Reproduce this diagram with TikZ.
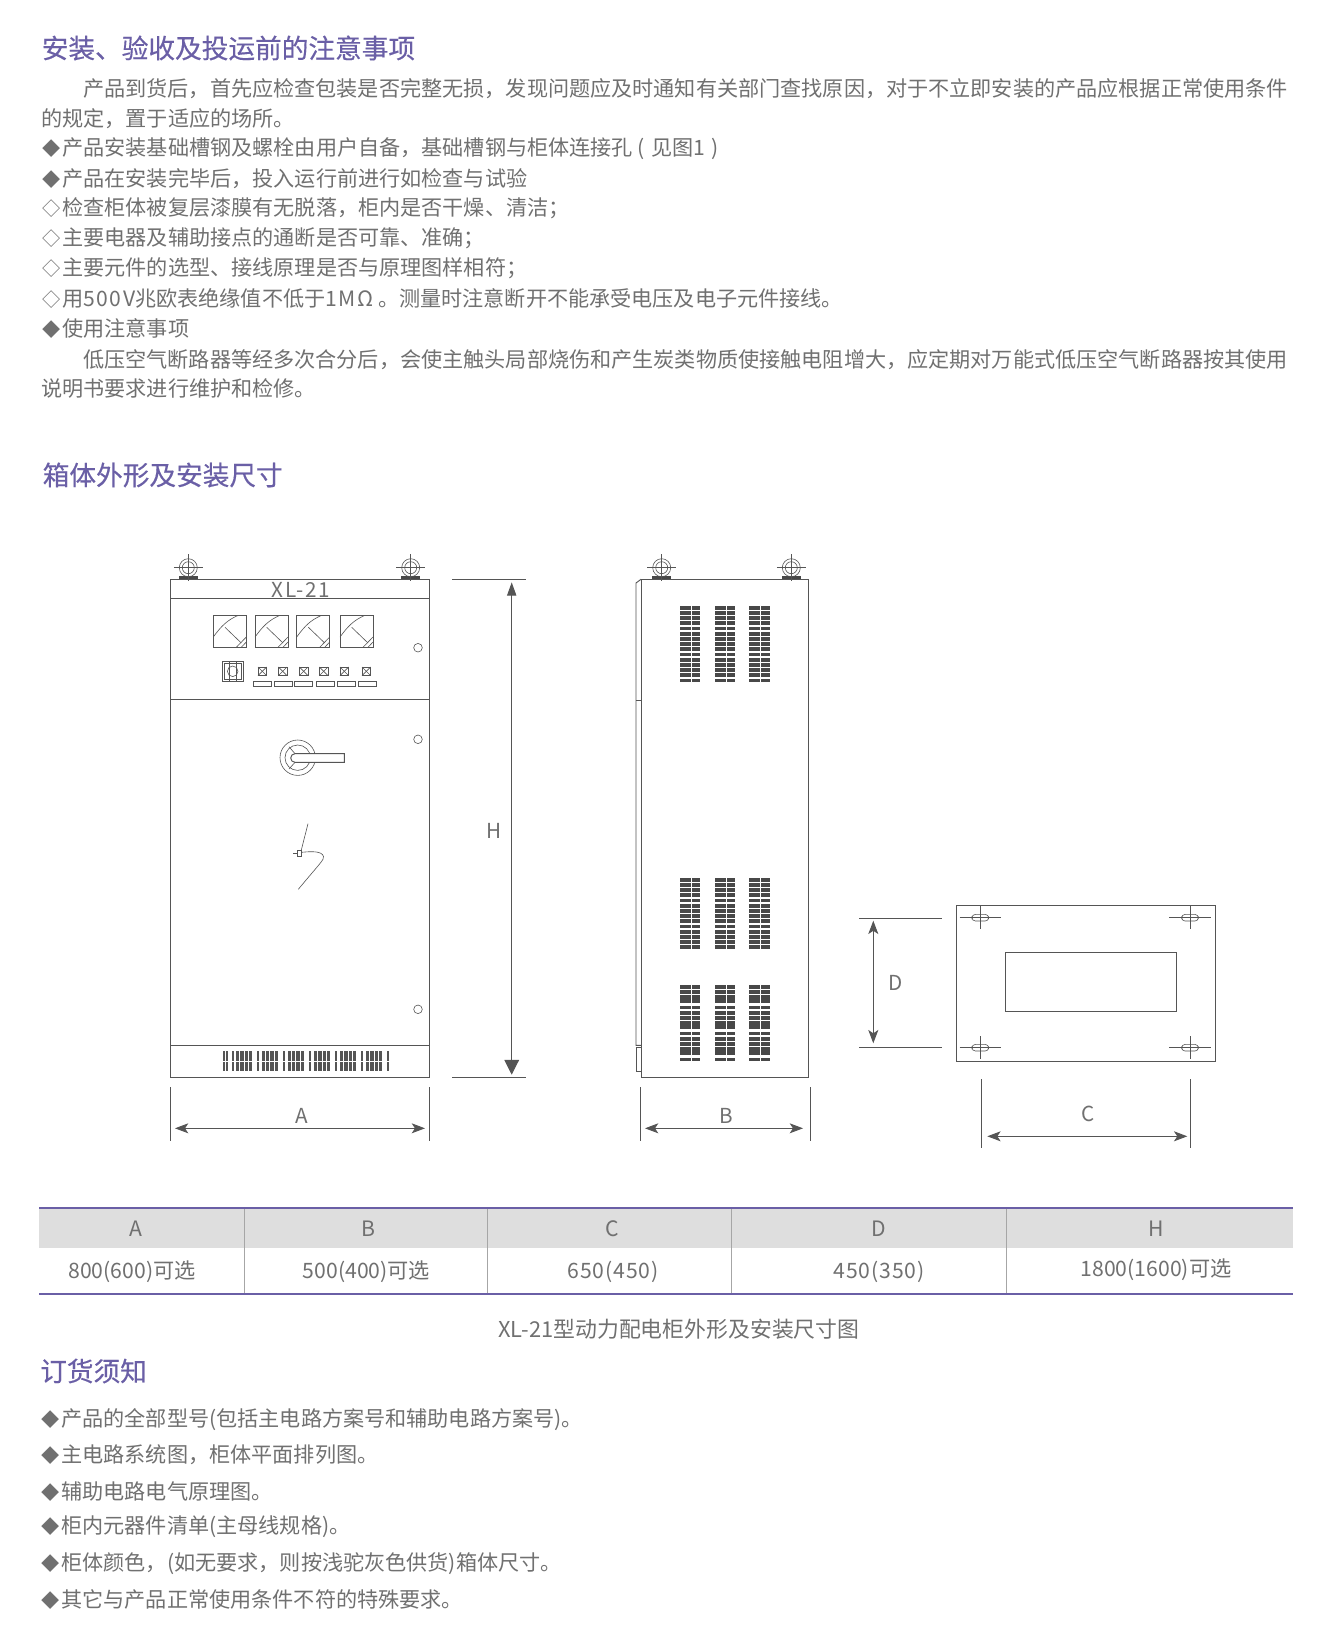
\documentclass[tikz,border=0pt]{standalone}
\usepackage{fontspec}
\setmainfont{Noto Sans CJK SC}
\newfontfamily\titlefont[FakeBold=0.35]{Noto Sans CJK SC}
\usetikzlibrary{arrows.meta,calc}
\definecolor{titulo}{HTML}{6A5FA6}
\definecolor{texto}{HTML}{707070}
\definecolor{linea}{HTML}{555555}
\definecolor{oscuro}{HTML}{484848}
\definecolor{cabeza}{HTML}{DEDEDE}
\newcommand{\lleno}{\makebox[1em]{\scalebox{0.86}{◆}}}
\newcommand{\hueco}{\makebox[1em]{\scalebox{0.86}{◇}}}
\newcommand{\lat}[1]{{\addfontfeatures{LetterSpace=7}#1}}
\newcommand{\latcell}[1]{{\addfontfeatures{LetterSpace=4}#1}}
\begin{document}
\begin{tikzpicture}[x=0.75pt,y=-0.75pt,>={Stealth[length=10pt,width=7.5pt,inset=2.5pt]},
head/.style ={anchor=west, inner sep=0pt, text=titulo, font=\titlefont\fontsize{20}{24}\selectfont},
body/.style ={anchor=west, inner sep=0pt, text=texto, font=\fontsize{15.85}{20}\selectfont},
cell/.style ={anchor=center, inner sep=0pt, text=texto, font=\fontsize{15.9}{20}\selectfont},
dimlabel/.style ={anchor=center, inner sep=0pt, text=texto, font=\fontsize{15.5}{20}\selectfont},
plate/.style ={draw=linea, line width=0.7pt},
thinline/.style ={draw=linea, line width=0.45pt},
dimline/.style ={draw=linea, line width=0.7pt},
rule/.style ={draw=titulo, line width=1.7pt}
]
\useasboundingbox (0,0) rectangle (1329,1636);
\fill[white] (0,0) rectangle (1329,1636);
\draw (41.5,48) node[head] (t1) {安装、验收及投运前的注意事项};
\draw (83,89) node[body] (l1) {产品到货后，首先应检查包装是否完整无损，发现问题应及时通知有关部门查找原因，对于不立即安装的产品应根据正常使用条件};
\draw (41,119) node[body] (l2) {的规定，置于适应的场所。};
\draw (41,149) node[body] (l3) {\lleno 产品安装基础槽钢及螺栓由用户自备，基础槽钢与柜体连接孔 \lat{( }见图\lat{1 )}};
\draw (41,178.5) node[body] (l4) {\lleno 产品在安装完毕后，投入运行前进行如检查与试验};
\draw (41,208.5) node[body] (l5) {\hueco 检查柜体被复层漆膜有无脱落，柜内是否干燥、清洁；};
\draw (41,238) node[body] (l6) {\hueco 主要电器及辅助接点的通断是否可靠、准确；};
\draw (41,268.5) node[body] (l7) {\hueco 主要元件的选型、接线原理是否与原理图样相符；};
\draw (41,298) node[body] (l8) {\hueco 用\lat{500V}兆欧表绝缘值不低于\lat{1MΩ} 。测量时注意断开不能承受电压及电子元件接线。};
\draw (41,329) node[body] (l9) {\lleno 使用注意事项};
\draw (83,359.5) node[body] (l10) {低压空气断路器等经多次合分后，会使主触头局部烧伤和产生炭类物质使接触电阻增大，应定期对万能式低压空气断路器按其使用};
\draw (41,388) node[body] (l11) {说明书要求进行维护和检修。};
\draw (42.5,475) node[head] (t2) {箱体外形及安装尺寸};
\foreach \bx in {188.3,410.7,661.7,791.3} {
\fill[oscuro] (\bx-9.5,576.3) rectangle (\bx+9.5,579.5);
\draw[thinline] (\bx,567.7) circle[radius=9];
\draw[thinline] (\bx,567.7) circle[radius=6];
\draw[thinline] (\bx-14.5,567.7)--(\bx+14.5,567.7);
\draw[thinline] (\bx,554)--(\bx,581);
}
\draw[plate] (170.7,579.3) rectangle (429.3,1077.3);
\draw[plate] (170.7,598.3)--(429.3,598.3);
\draw[plate] (170.7,699.3)--(429.3,699.3);
\draw[plate] (170.7,1045.3)--(429.3,1045.3);
\draw (301,590) node[dimlabel,font=\addfontfeatures{LetterSpace=8}\fontsize{15.5}{20}\selectfont] (model) {XL-21};
\foreach \mx in {213.3,255,296.7,340} {
\draw[plate] (\mx,615.3) rectangle +(33,32);
\draw[thinline] (\mx,637) .. controls (\mx+8,626) and (\mx+14,620) .. (\mx+25,615.3);
\draw[thinline] (\mx+11.7,627.3)--(\mx+28,643);
\draw[thinline] (\mx+23,647.3)--(\mx+33,637);
\draw[thinline] (\mx+28,647.3)--(\mx+33,642);
}
\draw[plate] (222,661.3) rectangle (243.7,681);
\draw[thinline] (224,663.3) rectangle (241.7,679);
\draw[thinline] (232.7,671.3) circle[radius=5.3];
\draw[thinline] (229.3,662)--(229.3,680.7);
\draw[thinline] (236,662)--(236,680.7);
\foreach \sx in {262.3,282.7,303.7,323.7,344.3,366.3} {
\draw[plate] (\sx-4.3,667) rectangle (\sx+4.3,675.6);
\draw[thinline] (\sx-4.3,667)--(\sx+4.3,675.6);
\draw[thinline] (\sx-4.3,675.6)--(\sx+4.3,667);
}
\foreach \lx in {253.3,274.3,294.3,316.3,337.3,358.7} {
\draw[thinline] (\lx,681) rectangle +(18,5.7);
}
\foreach \cy in {647.7,739.3,1009.3} {
\draw[thinline] (418,\cy) circle[radius=4.3];
}
\draw[thinline] (297.7,757.7) circle[radius=17.7];
\draw[thinline] (297.7,757.7) circle[radius=12.7];
\draw[thinline] (289,746.7)--(295,753.7);
\draw[thinline] (289,769)--(295,762.3);
\draw[plate,fill=white] (344.3,753.7)--(295,753.7) arc[start angle=270,end angle=90,radius=4.3]--(344.3,762.3)--cycle;
\draw[thinline] (308,823.7)--(301.3,850);
\draw[thinline] (297.3,850.3) rectangle (301.7,856.3);
\draw[thinline] (293.3,853.3)--(297.3,853.3);
\draw[thinline] (301.7,852.3) .. controls (310,851.5) and (322,850.5) .. (323.5,856.5) .. controls (324,860) and (321,862) .. (298.3,889.3);
\foreach \gx/\gw in {223.3/1.7,226.3/1.7,231.7/2.7,236/3.4,240.3/3.4,244.7/3.4,249/3.4,257/2,261.7/3.4,266/3.4,270.3/3.4,274.7/3.4,283.3/2,287.7/3.4,292/3.4,296.3/3.4,300.7/3.4,309/2,314/3.4,318.3/3.4,322.7/3.4,327/3.4,335.3/2,340/3.4,344.3/3.4,348.7/3.4,353/3.4,361.3/2,366/3.4,370.3/3.4,374.7/3.4,379/3.4,387.3/2} {
\fill[linea] (\gx,1051.3) rectangle +(\gw,9.3);
\fill[linea] (\gx,1061.6) rectangle +(\gw,9.7);
}
\draw[plate] (641,579.3) rectangle (808.3,1077);
\draw[plate] (641,579.3)--(636,583)--(636,1045.3)--(641,1045.3);
\draw[plate] (636,700.3)--(641,700.3);
\draw[plate] (636,1047.7) rectangle (641,1071.7);
\foreach \vy in {606,878,984.7} {
\foreach \vx in {680,715,749.3} {
\foreach \vo in {0,5,10,14.7,26.3,31,36,40.7,52.3,57,62,66.7} {
\fill[oscuro] (\vx,\vy+\vo) rectangle +(10.6,4);
\fill[oscuro] (\vx+11.6,\vy+\vo) rectangle +(8.7,4);
}
\foreach \vo in {21.3,47.3} {
\fill[oscuro] (\vx,\vy+\vo) rectangle +(10.6,2.5);
\fill[oscuro] (\vx+11.6,\vy+\vo) rectangle +(8.7,2.5);
}
}
}
\foreach \vy in {606,984.7} {
\foreach \vx in {680,715,749.3} {
\fill[oscuro] (\vx,\vy+73.3) rectangle +(10.6,2.5);
\fill[oscuro] (\vx+11.6,\vy+73.3) rectangle +(8.7,2.5);
}
}
\draw[plate] (956.3,905.7) rectangle (1215,1061.3);
\draw[plate] (1005,952) rectangle (1176.3,1011.7);
\foreach \px/\py in {980.3/917.7,1190/917.7,980.3/1047.7,1190/1047.7} {
\draw[thinline,rounded corners=2.5pt] (\px-8.3,\py-3.3) rectangle (\px+8.3,\py+3.3);
\draw[thinline] (\px-20.7,\py)--(\px+20.7,\py);
\draw[thinline] (\px,\py-11.3)--(\px,\py+11.3);
}
\coordinate (Hup) at (511.7,579.7);
\coordinate (Hdown) at (511.7,1077.3);
\draw[dimline] (452,579.7)--(525.7,579.7);
\draw[dimline] (452,1077.3)--(525.7,1077.3);
\draw[dimline,{Stealth[length=10pt,width=7pt,inset=0pt]}-{Stealth[length=11pt,width=11pt,inset=0pt]},shorten <=2pt,shorten >=2pt] (Hup)--(Hdown);
\draw (494,830.7) node[dimlabel] (H) {H};
\coordinate (Aleft) at (175,1128.3);
\coordinate (Aright) at (425,1128.3);
\draw[dimline] (170.7,1087.3)--(170.7,1140.7);
\draw[dimline] (429.7,1087.3)--(429.7,1140.7);
\draw[dimline,<->] (Aleft)--(Aright);
\draw (301.7,1116) node[dimlabel] (A) {A};
\coordinate (Bleft) at (645,1128.3);
\coordinate (Bright) at (803,1128.3);
\draw[dimline] (640.3,1087.3)--(640.3,1140.7);
\draw[dimline] (810.3,1087.3)--(810.3,1140.7);
\draw[dimline,<->] (Bleft)--(Bright);
\draw (726,1116) node[dimlabel] (B) {B};
\coordinate (Cleft) at (987.3,1136.3);
\coordinate (Cright) at (1187.3,1136.3);
\draw[dimline] (981.7,1079)--(981.7,1148.3);
\draw[dimline] (1190,1079)--(1190,1148.3);
\draw[dimline,<->] (Cleft)--(Cright);
\draw (1088,1114) node[dimlabel] (C) {C};
\coordinate (Dup) at (873.3,920.7);
\coordinate (Ddown) at (873.3,1043.3);
\draw[dimline] (859.3,918.3)--(942.3,918.3);
\draw[dimline] (859.3,1047.3)--(942.3,1047.3);
\draw[dimline,<->] (Dup)--(Ddown);
\draw (896,983) node[dimlabel] (D) {D};
\fill[cabeza] (39,1208) rectangle (1293,1248);
\foreach \tx in {244,487,731,1006} {
\draw[line width=0.5pt,draw=gray!70] (\tx,1208)--(\tx,1293);
}
\draw[rule] (39,1207.7)--(1293,1207.7);
\draw[rule] (39,1293.7)--(1293,1293.7);
\draw (136,1229) node[cell] (ha) {A};
\draw (368.5,1229) node[cell] (hb) {B};
\draw (612.5,1229) node[cell] (hc) {C};
\draw (878.5,1229) node[cell] (hd) {D};
\draw (1156,1229) node[cell] (hh) {H};
\draw (132,1271.5) node[cell] (va) {800(600)可选};
\draw (366.5,1271.5) node[cell] (vb) {500(400)可选};
\draw (613,1272) node[cell] (vc) {\latcell{650(450)}};
\draw (879,1272) node[cell] (vd) {\latcell{450(350)}};
\draw (1156,1269.5) node[cell] (vh) {1800(1600)可选};
\draw (679,1329) node[cell,font=\fontsize{16.4}{20}\selectfont] (cap) {XL-21型动力配电柜外形及安装尺寸图};
\draw (40,1371) node[head] (t3) {订货须知};
\draw (40,1420) node[body] (o1) {\lleno 产品的全部型号(包括主电路方案号和辅助电路方案号)。};
\draw (40,1455) node[body] (o2) {\lleno 主电路系统图，柜体平面排列图。};
\draw (40,1492) node[body] (o3) {\lleno 辅助电路电气原理图。};
\draw (40,1527) node[body] (o4) {\lleno 柜内元器件清单(主母线规格)。};
\draw (40,1564) node[body] (o5) {\lleno 柜体颜色，(如无要求，则按浅驼灰色供货)箱体尺寸。};
\draw (40,1600) node[body] (o6) {\lleno 其它与产品正常使用条件不符的特殊要求。};
\end{tikzpicture}
\end{document}
